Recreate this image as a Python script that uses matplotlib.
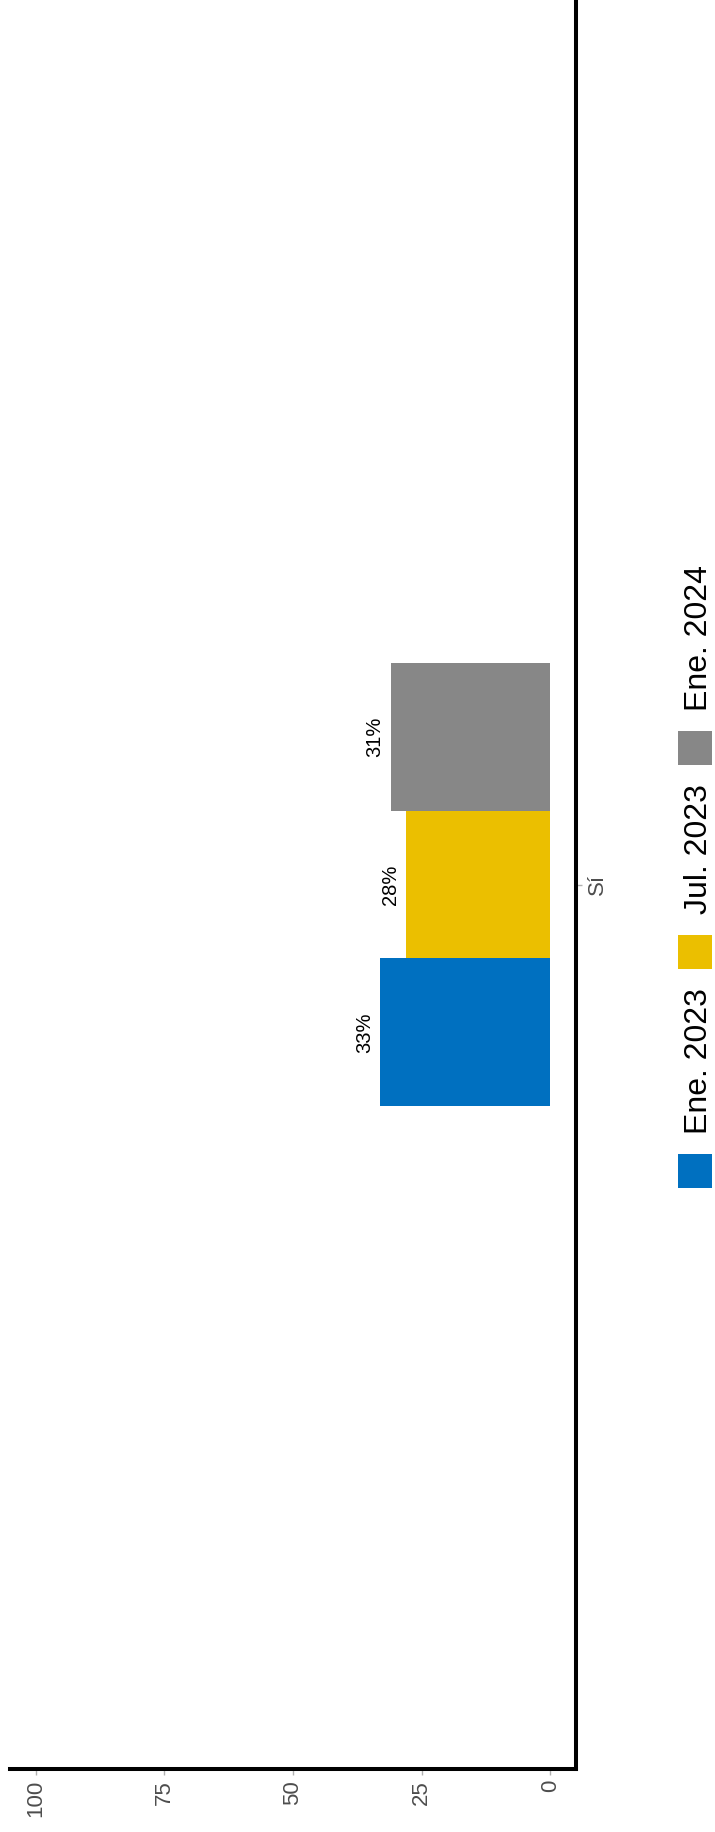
import matplotlib
matplotlib.use("Agg")
import matplotlib.pyplot as plt
from matplotlib.patches import Rectangle

plt.rcParams['font.family'] = ['Liberation Sans', 'DejaVu Sans']

# ---- data ----
categories = ["Sí"]
series = ["Ene. 2023", "Jul. 2023", "Ene. 2024"]
values = [33, 28, 31]
colors = ["#0070C0", "#EBBF00", "#878787"]
value_ticks = [0, 25, 50, 75, 100]

W, H = 715, 1832
fig = plt.figure(figsize=(W / 100, H / 100), dpi=100)
fig.patch.set_facecolor("white")

ax_left, ax_right = 10, 576      # px
ax_top, ax_bottom = 0, 1769      # px from top
ax = fig.add_axes([ax_left / W, (H - ax_bottom) / H,
                   (ax_right - ax_left) / W, (ax_bottom - ax_top) / H])

bar_h = 0.3
offsets = [(i - (len(series) - 1) / 2) * bar_h for i in range(len(series))]
for i, (s, v, c) in enumerate(zip(series, values, colors)):
    y = 0 + offsets[i]
    ax.barh(y, v, height=bar_h, color=c, linewidth=0)
    ax.annotate(f"{v}%", xy=(v, y), xytext=(-4.5, 0), textcoords="offset points",
                rotation=90, ha="right", va="center", fontsize=14.5, color="black")

ax.set_xlim(105, -5)
ax.set_ylim(-1.795, 1.795)

for side in ["top", "left"]:
    ax.spines[side].set_visible(False)
for side in ["bottom", "right"]:
    ax.spines[side].set_linewidth(2.9)
    ax.spines[side].set_color("black")
    ax.spines[side].set_capstyle("projecting")

ax.set_xticks(value_ticks)
ax.set_xticklabels([str(t) for t in value_ticks], rotation=90)
ax.tick_params(axis="x", colors="#b0b0b0", labelcolor="#4d4d4d", labelsize=16,
               length=4, width=1, pad=4)

ax.yaxis.tick_right()
ax.set_yticks(range(len(categories)))
ax.set_yticklabels(categories, rotation=90, va="center")
ax.tick_params(axis="y", colors="#b0b0b0", labelcolor="#4d4d4d", labelsize=16,
               length=4, width=1, pad=4)

# ---- legend (rotated, built manually) ----
renderer = fig.canvas.get_renderer()
sq = 34
gap = 20
text_x = 707
sq_x0 = 678
texts = []
lengths = []
for s in series:
    t = fig.text(0, 0, s, rotation=90, rotation_mode="anchor", ha="left",
                 va="baseline", fontsize=23, color="black",
                 transform=None)
    texts.append(t)
    lengths.append(t.get_window_extent(renderer).height)
total = sum(sq + gap + L for L in lengths) + gap * (len(series) - 1)
center_from_bottom = H - 876.5
y = center_from_bottom - total / 2
for s, c, t, L in zip(series, colors, texts, lengths):
    fig.patches.append(Rectangle((sq_x0, y), sq, sq, transform=None,
                                 facecolor=c, edgecolor="none", figure=fig))
    t.set_position((text_x, y + sq + gap))
    y += sq + gap + L + gap

fig.savefig("out.png", dpi=100, facecolor="white")
